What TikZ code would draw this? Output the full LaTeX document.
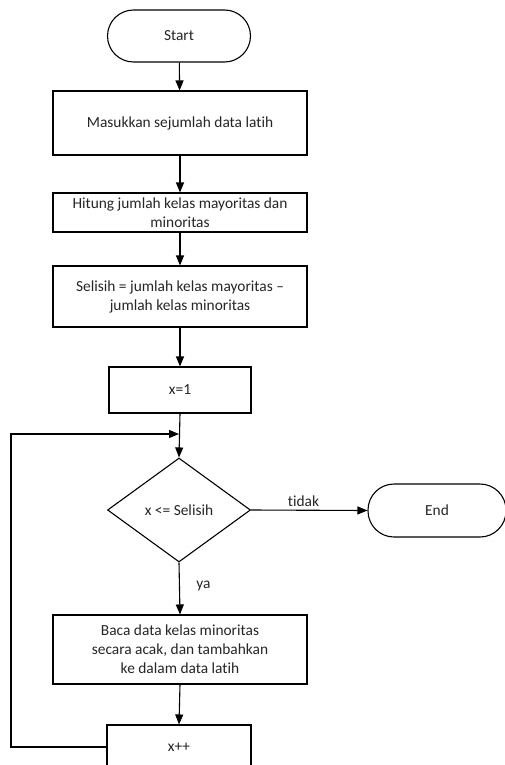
\documentclass[tikz,border=0pt]{standalone}
\usepackage{fontspec}
\setmainfont{Carlito}[RawFeature={-liga}]
\usetikzlibrary{arrows.meta,shapes.geometric}
\begin{document}
\begin{tikzpicture}[x=1pt,y=-1pt,
  every node/.style={font=\fontsize{15.4}{19}\selectfont, text=black!85},
  procbox/.style={draw, line width=1.1pt, rectangle, align=center, inner sep=2pt},
  termbox/.style={draw, line width=1.1pt, rectangle, rounded corners=26pt, align=center},
  decbox/.style={draw, line width=1.1pt, diamond, aspect=1.375, inner sep=0pt},
  flow/.style={line width=1.1pt, -{Triangle[length=10pt,width=8pt]}},
  lbl/.style={font=\fontsize{15.4}{19}\selectfont}]
\useasboundingbox (0,0) rectangle (505,765);
\fill[white] (0,0) rectangle (505,765);
\node[termbox, minimum width=143pt, minimum height=52pt] (start) at (179,36) {Start};
\node[procbox, minimum width=254pt, minimum height=64pt] (b1) at (180,123) {Masukkan sejumlah data latih};
\node[procbox, minimum width=254pt, minimum height=39pt] (b2) at (180,212.5) {Hitung jumlah kelas mayoritas dan\\minoritas};
\node[procbox, minimum width=254pt, minimum height=61pt] (b3) at (180,296.5) {Selisih = jumlah kelas mayoritas --\\jumlah kelas minoritas};
\node[procbox, minimum width=142pt, minimum height=46pt] (b4) at (180,390) {x=1};
\node[decbox, minimum width=143pt, minimum height=104pt] (dec) at (179,510) {x <= Selisih};
\node[termbox, minimum width=138pt, minimum height=53pt] (end) at (437,510.5) {End};
\node[procbox, minimum width=254pt, minimum height=69pt] (b5) at (180,649.5) {Baca data kelas minoritas\\secara acak, dan tambahkan\\ke dalam data latih};
\node[procbox, minimum width=144pt, minimum height=44pt] (b6) at (179,747) {x++};
\coordinate (join) at (180,434);
\coordinate (lb) at (11,747);
\coordinate (lt) at (11,434);
\draw[flow] (start) -- (b1);
\draw[flow] (b1) -- (b2);
\draw[flow] (b2) -- (b3);
\draw[flow] (b3) -- (b4);
\draw[flow] (b4.south) -- (dec.north);
\draw[flow] (dec.east) -- node[lbl, above, pos=0.45] (tidak) {tidak} (end.west);
\draw[flow] (dec.south) -- node[lbl, right, pos=0.45, xshift=13pt] (ya) {ya} (b5.north);
\draw[flow] (b5.south) -- (b6.north);
\draw[flow] (b6.west) -- (lb) -- (lt) -- ([xshift=-1pt]join);
\end{tikzpicture}
\end{document}
